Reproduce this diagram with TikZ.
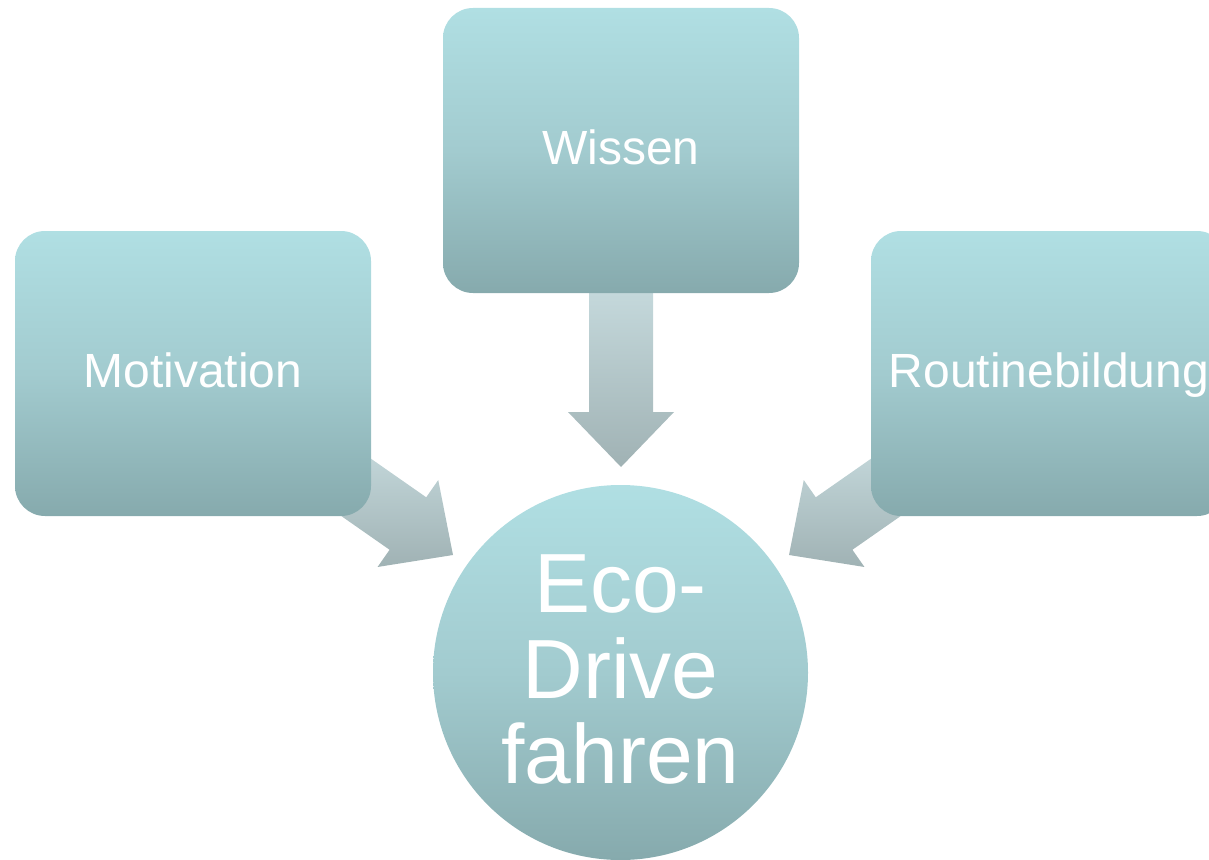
\documentclass[tikz,border=0pt]{standalone}
\usepackage{fontspec}
\setmainfont{Liberation Sans}
\usetikzlibrary{calc,backgrounds}

\definecolor{boxtop}{HTML}{B0DFE3}
\definecolor{boxmid}{HTML}{A2CBCF}
\definecolor{boxbot}{HTML}{86AAAD}
\definecolor{arrtop}{HTML}{C4D8DB}
\definecolor{arrbot}{HTML}{A0B2B4}

\tikzset{
	box/.style={rectangle, rounded corners=30pt, minimum width=356pt, minimum height=285pt, inner sep=0pt,
		text height=35pt, text depth=7pt,
		top color=boxtop, bottom color=boxbot, middle color=boxmid, text=white, font=\fontsize{48}{58}\selectfont},
	goal/.style={circle, minimum size=375pt, inner sep=0pt, align=center, text depth=6pt,
		top color=boxtop, bottom color=boxbot, middle color=boxmid, text=white, font=\fontsize{84}{85.5}\selectfont},
	blockarrow/.style={top color=arrtop, bottom color=arrbot},
}

%block arrow from #1 to the tip #2
\newcommand{\flowarrow}[2]{
	\coordinate (b) at ($(#2)!55pt!(#1)$);
	\path[blockarrow] ($(#1)!32pt!90:(#2)$) -- ($(b)!32pt!90:(#2)$) -- ($(b)!53pt!90:(#2)$) -- (#2)
		-- ($(b)!53pt!-90:(#2)$) -- ($(b)!32pt!-90:(#2)$) -- ($(#1)!32pt!-90:(#2)$) -- cycle;
}

\begin{document}
\begin{tikzpicture}[x=1pt, y=-1pt]
	\useasboundingbox (0,0) rectangle (1209,859);
	
	%boxes
	\node (wissen) at (621, 150.5) [box]{Wissen};
	\node (motivation) at (193, 373.5) [box]{Motivation};
	\node (routine) at (1049, 373.5) [box]{Routinebildung};
	
	\node (eco) at (620.5, 672.5) [goal]{Eco-\\Drive\\fahren};
	
	%arrow tips
	\coordinate (wtip) at (621, 467);
	\coordinate (mtip) at (453, 555);
	\coordinate (rtip) at (789, 555);
	
	\begin{scope}[on background layer]
		\flowarrow{wissen.south}{wtip}
		\flowarrow{$(motivation.center)!0.55!(mtip)$}{mtip}
		\flowarrow{$(routine.center)!0.55!(rtip)$}{rtip}
	\end{scope}
\end{tikzpicture}
\end{document}
